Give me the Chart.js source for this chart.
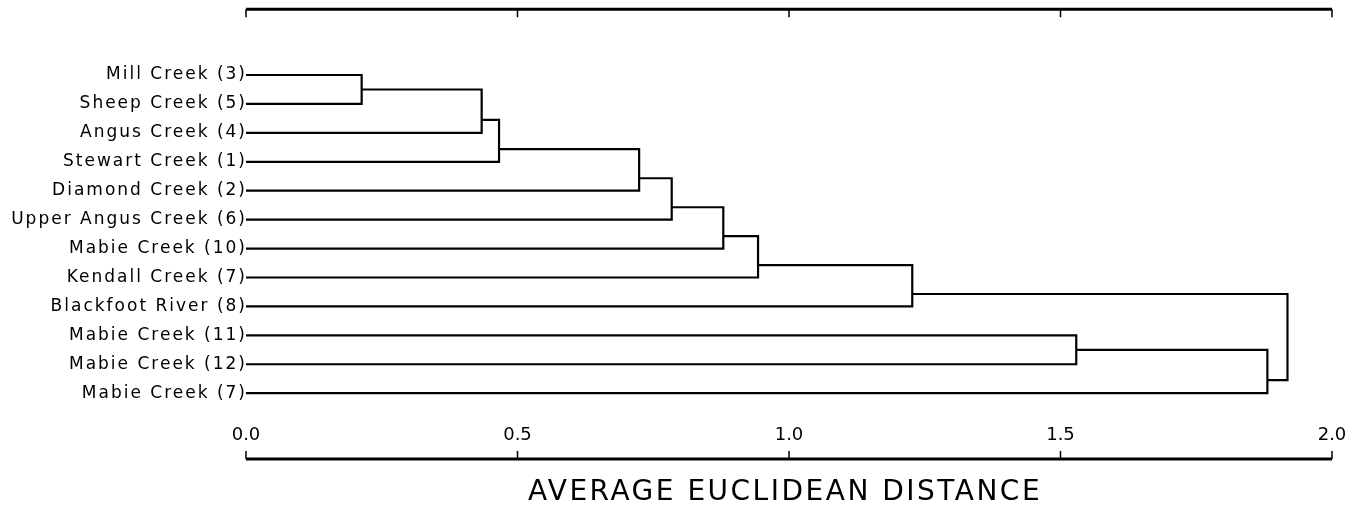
<!DOCTYPE html>
<html>
<head>
<meta charset="utf-8">
<script src="https://cdn.jsdelivr.net/npm/chart.js@4.4.0/dist/chart.umd.min.js"></script>
<style>
  html, body { margin: 0; padding: 0; background: #fff; }
  #wrap { width: 1365px; height: 510px; position: relative; }
</style>
</head>
<body>
<div id="wrap"><canvas id="myChart"></canvas></div>
<script>
// leaves from top to bottom
const leafNames = [
  'Mill Creek (3)',
  'Sheep Creek (5)',
  'Angus Creek (4)',
  'Stewart Creek (1)',
  'Diamond Creek (2)',
  'Upper Angus Creek (6)',
  'Mabie Creek (10)',
  'Kendall Creek (7)',
  'Blackfoot River (8)',
  'Mabie Creek (11)',
  'Mabie Creek (12)',
  'Mabie Creek (7)'
];
// merges: index < 12 is a leaf, 12 + k is the cluster made by merge k
const mergeLeft = [0, 12, 13, 14, 15, 16, 17, 18, 9, 20, 19];
const mergeRight = [1, 2, 3, 4, 5, 6, 7, 8, 10, 11, 21];
const mergeDistance = [0.213, 0.434, 0.466, 0.724, 0.784, 0.879, 0.943, 1.227, 1.529, 1.881, 1.918];
const distanceTicks = [0, 0.5, 1.0, 1.5, 2.0];
const tickLabels = ['0.0', '0.5', '1.0', '1.5', '2.0'];
const axisTitle = 'AVERAGE EUCLIDEAN DISTANCE';

// build the dendrogram links
const nodeRow = leafNames.map((n, i) => i);
const nodeDist = leafNames.map(() => 0);
const datasets = [];
mergeLeft.forEach((a, k) => {
  const b = mergeRight[k];
  const h = mergeDistance[k];
  const bothLeaves = a < leafNames.length && b < leafNames.length;
  const w = bothLeaves ? 0.5 : 0.7;
  nodeRow.push(nodeRow[a] + (nodeRow[b] - nodeRow[a]) * w);
  nodeDist.push(h);
  datasets.push({
    data: [
      { x: nodeDist[a], y: nodeRow[a] },
      { x: h, y: nodeRow[a] },
      { x: h, y: nodeRow[b] },
      { x: nodeDist[b], y: nodeRow[b] }
    ],
    showLine: true,
    borderColor: '#000',
    borderWidth: 2.2,
    pointRadius: 0,
    tension: 0,
    borderJoinStyle: 'miter'
  });
});

// axes with inward ticks, labels above the bottom line
const axisPlugin = {
  id: 'axisPlugin',
  beforeDraw(chart) {
    chart.ctx.letterSpacing = '2px';
  },
  afterDraw(chart) {
    const ctx = chart.ctx;
    const xs = chart.scales.x;
    const area = chart.chartArea;
    const x0 = xs.getPixelForValue(distanceTicks[0]);
    const x1 = xs.getPixelForValue(distanceTicks[distanceTicks.length - 1]);
    ctx.save();
    ctx.strokeStyle = '#000';
    ctx.lineWidth = 3;
    ctx.beginPath();
    ctx.moveTo(x0, area.top);
    ctx.lineTo(x1, area.top);
    ctx.moveTo(x0, area.bottom);
    ctx.lineTo(x1, area.bottom);
    ctx.stroke();
    ctx.lineWidth = 1.5;
    ctx.beginPath();
    distanceTicks.forEach((v) => {
      const px = xs.getPixelForValue(v);
      ctx.moveTo(px, area.top);
      ctx.lineTo(px, area.top + 8);
      ctx.moveTo(px, area.bottom);
      ctx.lineTo(px, area.bottom - 8);
    });
    ctx.stroke();

    ctx.fillStyle = '#000';
    ctx.textAlign = 'center';
    ctx.textBaseline = 'middle';
    ctx.font = '18px "DejaVu Sans"';
    ctx.letterSpacing = '0px';
    distanceTicks.forEach((v, i) => {
      ctx.fillText(tickLabels[i], xs.getPixelForValue(v), area.bottom - 24);
    });
    ctx.font = '28px "DejaVu Sans"';
    ctx.letterSpacing = '2.5px';
    ctx.fillText(axisTitle, (x0 + x1) / 2 - 4, area.bottom + 34);
    ctx.restore();
  }
};

const ctx = document.getElementById('myChart').getContext('2d');
const myChart = new Chart(ctx, {
  type: 'scatter',
  data: { datasets: datasets },
  options: {
    responsive: true,
    maintainAspectRatio: false,
    animation: false,
    events: [],
    layout: { padding: { left: 0, right: 33, top: 8, bottom: 51 } },
    plugins: {
      legend: { display: false },
      tooltip: { enabled: false }
    },
    scales: {
      x: {
        type: 'linear',
        display: false,
        min: 0,
        max: 2
      },
      y: {
        type: 'linear',
        reverse: true,
        min: -66 / 29,
        max: 385 / 29,
        afterFit: (scale) => { scale.width = 246; },
        afterBuildTicks: (scale) => {
          scale.ticks = leafNames.map((n, i) => ({ value: i }));
        },
        grid: { display: false, drawTicks: false },
        border: { display: false },
        ticks: {
          color: '#000',
          padding: -1,
          font: { family: 'DejaVu Sans', size: 17 },
          callback: (value, index) => leafNames[index]
        }
      }
    }
  },
  plugins: [axisPlugin]
});
</script>
</body>
</html>
